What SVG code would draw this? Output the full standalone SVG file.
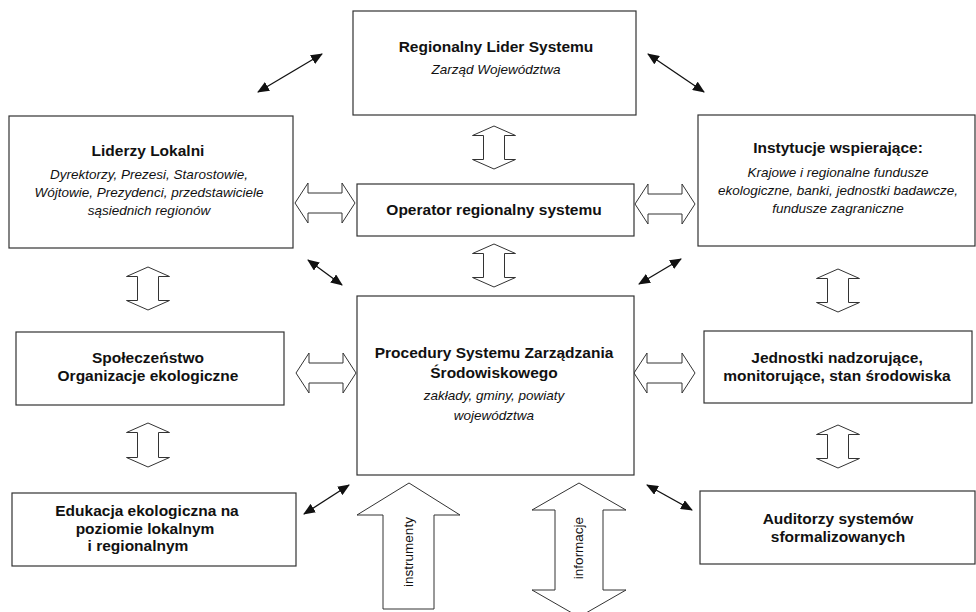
<svg xmlns="http://www.w3.org/2000/svg" width="976" height="612" viewBox="0 0 976 612">
<defs>
<style>
.box{fill:#fff;stroke:#333;stroke-width:1.2}
.b{font-family:"Liberation Sans",Arial,sans-serif;font-weight:bold;font-size:15.5px;fill:#111;text-anchor:middle}
.i{font-family:"Liberation Sans",Arial,sans-serif;font-style:italic;font-size:13.5px;fill:#111;text-anchor:middle}
.r{font-family:"Liberation Sans",Arial,sans-serif;font-size:13.5px;fill:#111;text-anchor:middle}
.h{fill:#fff;stroke:#333;stroke-width:1}
.d{stroke:#111;stroke-width:1.3;fill:none;marker-start:url(#ah);marker-end:url(#ah)}
</style>
<marker id="ah" markerUnits="userSpaceOnUse" markerWidth="12" markerHeight="10" refX="11" refY="5" orient="auto-start-reverse" viewBox="0 0 12 10">
<path d="M0,0 L12,5 L0,10 z" fill="#111"/>
</marker>
</defs>
<rect width="976" height="612" fill="#fff"/>

<g id="connectors">
<!-- diagonal arrows -->
<line class="d" x1="258" y1="92" x2="322" y2="54"/>
<line class="d" x1="648" y1="54" x2="704" y2="92"/>
<line class="d" x1="308" y1="260" x2="342" y2="285"/>
<line class="d" x1="639" y1="284" x2="681" y2="259"/>
<line class="d" x1="304" y1="514" x2="349" y2="485"/>
<line class="d" x1="647" y1="485" x2="692" y2="510"/>
<!-- hollow horizontal double arrows -->
<path class="h" d="M295,203 L308,183 L308,193 L342,193 L342,183 L355,203 L342,223 L342,213 L308,213 L308,223 Z"/>
<path class="h" d="M635,204 L648,184 L648,194 L682,194 L682,184 L695,204 L682,224 L682,214 L648,214 L648,224 Z"/>
<path class="h" d="M296,373 L309,353 L309,363 L343,363 L343,353 L356,373 L343,393 L343,383 L309,383 L309,393 Z"/>
<path class="h" d="M634,373 L647,353 L647,363 L682,363 L682,353 L695,373 L682,393 L682,383 L647,383 L647,393 Z"/>
<!-- hollow vertical double arrows -->
<path class="h" d="M494,126 L515.5,135.5 L504.5,135.5 L504.5,159.5 L515.5,159.5 L494,169 L472.5,159.5 L483.5,159.5 L483.5,135.5 L472.5,135.5 Z"/>
<path class="h" d="M494,244 L515.5,253.5 L504.5,253.5 L504.5,277.5 L515.5,277.5 L494,287 L472.5,277.5 L483.5,277.5 L483.5,253.5 L472.5,253.5 Z"/>
<path class="h" d="M148,267 L169.5,276.5 L158.5,276.5 L158.5,300.5 L169.5,300.5 L148,310 L126.5,300.5 L137.5,300.5 L137.5,276.5 L126.5,276.5 Z"/>
<path class="h" d="M148,423 L169.5,432.5 L158.5,432.5 L158.5,457.5 L169.5,457.5 L148,467 L126.5,457.5 L137.5,457.5 L137.5,432.5 L126.5,432.5 Z"/>
<path class="h" d="M838,269 L859.5,278.5 L848.5,278.5 L848.5,302.5 L859.5,302.5 L838,312 L816.5,302.5 L827.5,302.5 L827.5,278.5 L816.5,278.5 Z"/>
<path class="h" d="M838,425 L859.5,434.5 L848.5,434.5 L848.5,458.5 L859.5,458.5 L838,468 L816.5,458.5 L827.5,458.5 L827.5,434.5 L816.5,434.5 Z"/>
<!-- big arrows -->
<path class="h" d="M409,483 L460,515 L434,515 L434,609 L383,609 L383,515 L357,515 Z"/>
<text class="r" transform="translate(413,552) rotate(-90)">instrumenty</text>
<path class="h" d="M579,483 L626,510 L603,510 L603,590 L626,590 L579,617 L532,590 L555,590 L555,510 L532,510 Z"/>
<text class="r" transform="translate(583,548) rotate(-90)">informacje</text>
</g>

<g id="lider">
<rect class="box" x="353" y="11" width="283" height="104"/>
<text class="b" x="496" y="52">Regionalny Lider Systemu</text>
<text class="i" x="496" y="74">Zarząd Województwa</text>
</g>

<g id="liderzy">
<rect class="box" x="9" y="116" width="284" height="132"/>
<text class="b" x="148" y="156">Liderzy Lokalni</text>
<text class="i" x="149" y="179">Dyrektorzy, Prezesi, Starostowie,</text>
<text class="i" x="149" y="197">Wójtowie, Prezydenci, przedstawiciele</text>
<text class="i" x="149" y="215">sąsiednich regionów</text>
</g>

<g id="operator">
<rect class="box" x="357" y="184" width="277" height="52"/>
<text class="b" x="494" y="215">Operator regionalny systemu</text>
</g>

<g id="instytucje">
<rect class="box" x="698" y="115" width="277" height="131"/>
<text class="b" x="838" y="153">Instytucje wspierające:</text>
<text class="i" x="838" y="177">Krajowe i regionalne fundusze</text>
<text class="i" x="838" y="195">ekologiczne, banki, jednostki badawcze,</text>
<text class="i" x="838" y="213">fundusze zagraniczne</text>
</g>

<g id="spoleczenstwo">
<rect class="box" x="16" y="332" width="268" height="73"/>
<text class="b" x="148" y="363">Społeczeństwo</text>
<text class="b" x="148" y="381">Organizacje ekologiczne</text>
</g>

<g id="procedury">
<rect class="box" x="357" y="296" width="277" height="179"/>
<text class="b" x="494" y="358">Procedury Systemu Zarządzania</text>
<text class="b" x="494" y="378">Środowiskowego</text>
<text class="i" x="494" y="400">zakłady, gminy, powiaty</text>
<text class="i" x="494" y="420">województwa</text>
</g>

<g id="jednostki">
<rect class="box" x="704" y="331" width="268" height="72"/>
<text class="b" x="837" y="363">Jednostki nadzorujące,</text>
<text class="b" x="837" y="381">monitorujące, stan środowiska</text>
</g>

<g id="edukacja">
<rect class="box" x="12" y="493" width="284" height="73"/>
<text class="b" x="147" y="516">Edukacja ekologiczna na</text>
<text class="b" x="145" y="534">poziomie lokalnym</text>
<text class="b" x="138" y="551">i regionalnym</text>
</g>

<g id="auditorzy">
<rect class="box" x="700" y="491" width="275" height="73"/>
<text class="b" x="838" y="524">Auditorzy systemów</text>
<text class="b" x="838" y="542">sformalizowanych</text>
</g>
</svg>
